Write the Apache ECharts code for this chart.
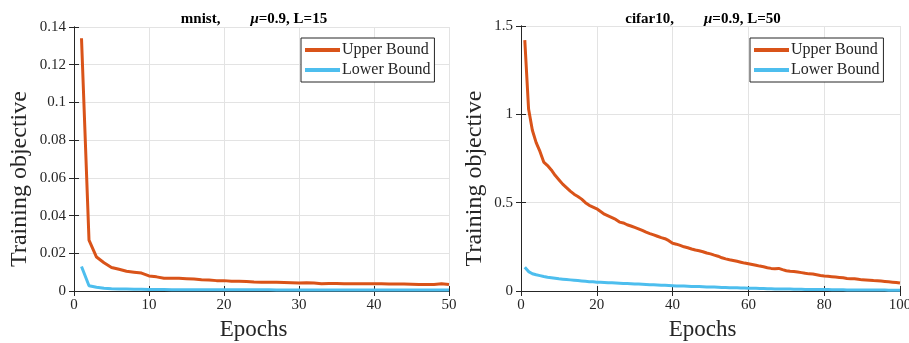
<!DOCTYPE html>
<html>
<head>
<meta charset="utf-8">
<style>
  html, body { margin: 0; padding: 0; background: #fff; }
  #chart { width: 909px; height: 343px; }
</style>
<script src="https://cdn.jsdelivr.net/npm/echarts@6/dist/echarts.min.js"></script>
</head>
<body>
<div id="chart"></div>
<script>
// mnist, 50 epochs
const mnistUpper = [
  0.134, 0.027, 0.018, 0.015, 0.0125, 0.0115, 0.0105, 0.0100, 0.0095, 0.0080,
  0.0075, 0.0068, 0.0067, 0.0067, 0.0065, 0.0063, 0.0060, 0.0058, 0.0055, 0.0055,
  0.0052, 0.0052, 0.0050, 0.0048, 0.0047, 0.0046, 0.0046, 0.0045, 0.0044, 0.0043,
  0.0044, 0.0042, 0.0039, 0.0040, 0.0040, 0.0039, 0.0038, 0.0038, 0.0038, 0.0038,
  0.0038, 0.0037, 0.0037, 0.0037, 0.0036, 0.0035, 0.0034, 0.0035, 0.0038, 0.0034,
];
const mnistLower = [
  0.0130, 0.0028, 0.0020, 0.0015, 0.0012, 0.0011, 0.0010, 0.0009, 0.0009, 0.0008,
  0.0008, 0.0008, 0.0007, 0.0007, 0.0007, 0.0007, 0.0007, 0.0006, 0.0006, 0.0006,
  0.0006, 0.0006, 0.0006, 0.0006, 0.0006, 0.0006, 0.0005, 0.0005, 0.0005, 0.0005,
  0.0005, 0.0005, 0.0005, 0.0005, 0.0005, 0.0005, 0.0005, 0.0005, 0.0005, 0.0005,
  0.0005, 0.0005, 0.0005, 0.0005, 0.0005, 0.0005, 0.0005, 0.0005, 0.0005, 0.0005,
];
// cifar10, 100 epochs
const cifarUpper = [
  1.42, 1.03, 0.91, 0.84, 0.79, 0.73, 0.71, 0.685, 0.655, 0.63,
  0.605, 0.585, 0.565, 0.548, 0.535, 0.52, 0.50, 0.485, 0.475, 0.465,
  0.45, 0.435, 0.425, 0.415, 0.405, 0.39, 0.385, 0.375, 0.368, 0.36,
  0.352, 0.343, 0.333, 0.325, 0.318, 0.31, 0.302, 0.296, 0.285, 0.27,
  0.265, 0.258, 0.25, 0.245, 0.238, 0.232, 0.228, 0.222, 0.215, 0.21,
  0.203, 0.197, 0.188, 0.182, 0.177, 0.173, 0.168, 0.163, 0.158, 0.154,
  0.15, 0.146, 0.141, 0.137, 0.132, 0.128, 0.126, 0.128, 0.121, 0.115,
  0.112, 0.11, 0.107, 0.104, 0.10, 0.097, 0.096, 0.092, 0.088, 0.085,
  0.083, 0.081, 0.079, 0.077, 0.075, 0.071, 0.07, 0.069, 0.066, 0.063,
  0.062, 0.061, 0.059, 0.058, 0.056, 0.054, 0.052, 0.05, 0.048, 0.045,
];
const cifarLower = [
  0.135, 0.11, 0.098, 0.092, 0.087, 0.082, 0.078, 0.075, 0.072, 0.069,
  0.067, 0.065, 0.063, 0.061, 0.059, 0.057, 0.055, 0.053, 0.052, 0.05,
  0.049, 0.048, 0.047, 0.046, 0.045, 0.044, 0.043, 0.042, 0.041, 0.04,
  0.039, 0.038, 0.037, 0.036, 0.035, 0.034, 0.033, 0.032, 0.031, 0.03,
  0.029, 0.029, 0.028, 0.027, 0.026, 0.025, 0.025, 0.024, 0.023, 0.022,
  0.022, 0.021, 0.02, 0.02, 0.019, 0.018, 0.018, 0.017, 0.017, 0.016,
  0.015, 0.015, 0.014, 0.014, 0.013, 0.013, 0.012, 0.012, 0.012, 0.011,
  0.011, 0.01, 0.01, 0.01, 0.009, 0.009, 0.009, 0.008, 0.008, 0.008,
  0.008, 0.007, 0.007, 0.007, 0.007, 0.006, 0.006, 0.006, 0.006, 0.006,
  0.005, 0.005, 0.005, 0.005, 0.005, 0.005, 0.004, 0.004, 0.004, 0.004,
];
const seriesNames = ["Upper Bound", "Lower Bound"];

const font = '"Liberation Serif", "DejaVu Serif", serif';
const ink = "#262626";
const upperColor = "#D95319";
const lowerColor = "#4DBEEE";

const withEpochs = (arr) => arr.map((v, i) => [i + 1, v]);

const chart = echarts.init(document.getElementById("chart"));

function xAxes(gridIndex, max, interval) {
  return [
    {
      gridIndex,
      type: "value",
      min: 0,
      max,
      interval,
      name: "Epochs",
      nameLocation: "middle",
      nameGap: 27,
      // matlab puts the label a bit left of centre
      nameTextStyle: { fontFamily: font, fontSize: 23, color: ink, padding: [0, 16, 0, 0] },
      axisLine: { show: true, lineStyle: { color: ink } },
      axisTick: { inside: true, length: 5, lineStyle: { color: ink } },
      axisLabel: { fontFamily: font, fontSize: 15, color: ink, margin: 7 },
      splitLine: { show: true, lineStyle: { color: "#e3e3e3" } },
    },
    {
      gridIndex,
      type: "value",
      position: "top",
      min: 0,
      max,
      interval,
      axisLine: { show: true, lineStyle: { color: ink } },
      axisTick: { inside: true, length: 5, lineStyle: { color: ink } },
      axisLabel: { show: false },
      splitLine: { show: false },
    },
  ];
}

function yAxes(gridIndex, max, interval, nameGap, fmt) {
  return [
    {
      gridIndex,
      type: "value",
      min: 0,
      max,
      interval,
      name: "Training objective",
      nameLocation: "middle",
      nameGap,
      // shifted down a little, like the original
      nameTextStyle: { fontFamily: font, fontSize: 24, color: ink, padding: [0, 40, 0, 0] },
      axisLine: { show: true, lineStyle: { color: ink } },
      axisTick: { inside: true, length: 5, lineStyle: { color: ink } },
      axisLabel: { fontFamily: font, fontSize: 15, color: ink, margin: 8, formatter: fmt },
      splitLine: { show: true, lineStyle: { color: "#e3e3e3" } },
    },
    {
      gridIndex,
      type: "value",
      position: "right",
      min: 0,
      max,
      interval,
      axisLine: { show: true, lineStyle: { color: ink } },
      axisTick: { inside: true, length: 5, lineStyle: { color: ink } },
      axisLabel: { show: false },
      splitLine: { show: false },
    },
  ];
}

function legend(left) {
  return {
    left,
    top: 38,
    orient: "vertical",
    data: seriesNames,
    icon: "rect",
    itemWidth: 35,
    itemHeight: 4,
    itemGap: 4,
    padding: [4, 4, 4, 4],
    borderColor: ink,
    borderWidth: 1,
    backgroundColor: "#fff",
    selectedMode: false,
    textStyle: { fontFamily: font, fontSize: 16, color: ink, lineHeight: 15, padding: [0, 0, 0, -3] },
  };
}

function line(name, data, color, xi, yi) {
  return {
    name,
    type: "line",
    xAxisIndex: xi,
    yAxisIndex: yi,
    data,
    showSymbol: false,
    smooth: false,
    color,
    lineStyle: { color, width: 3 },
    z: name === "Upper Bound" ? 3 : 2,
  };
}

const titleRich = {
  b: { fontFamily: font, fontSize: 15, fontWeight: "bold", color: "#000" },
  mu: { fontFamily: font, fontSize: 15, fontWeight: "bold", fontStyle: "italic", color: "#000" },
};

chart.setOption({
  animation: false,
  backgroundColor: "#fff",
  title: [
    {
      text: "{b|mnist,}      {mu|μ}{b|=0.9, L=15}",
      left: 249,
      top: 5,
      textAlign: "center",
      textStyle: { rich: titleRich },
    },
    {
      text: "{b|cifar10,}      {mu|μ}{b|=0.9, L=50}",
      left: 698,
      top: 5,
      textAlign: "center",
      textStyle: { rich: titleRich },
    },
  ],
  legend: [legend(301), legend(750)],
  grid: [
    { left: 74, right: 460, top: 27, bottom: 52, outerBoundsMode: "none" },
    { left: 521, right: 9, top: 26, bottom: 52, outerBoundsMode: "none" },
  ],
  xAxis: [...xAxes(0, 50, 10), ...xAxes(1, 100, 20)],
  yAxis: [
    ...yAxes(0, 0.14, 0.02, 42, (v) => (v === 0 ? "0" : String(+v.toFixed(2)))),
    ...yAxes(1, 1.5, 0.5, 34, (v) => String(+v.toFixed(1))),
  ],
  series: [
    line(seriesNames[0], withEpochs(mnistUpper), upperColor, 0, 0),
    line(seriesNames[1], withEpochs(mnistLower), lowerColor, 0, 0),
    line(seriesNames[0], withEpochs(cifarUpper), upperColor, 2, 2),
    line(seriesNames[1], withEpochs(cifarLower), lowerColor, 2, 2),
  ],
});
</script>
</body>
</html>
